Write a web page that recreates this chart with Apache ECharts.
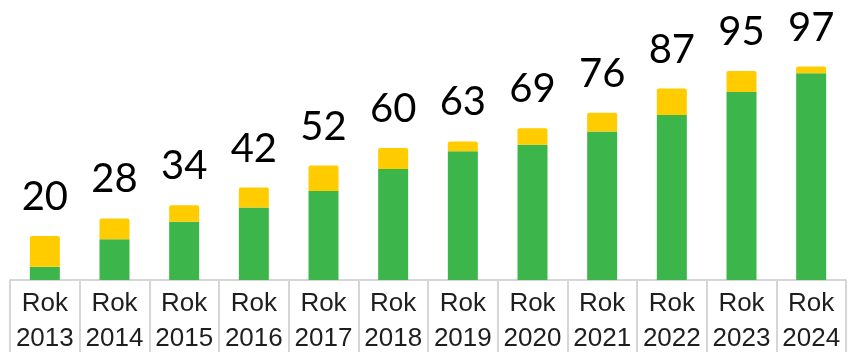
<!DOCTYPE html>
<html>
<head>
<meta charset="utf-8">
<script src="https://cdn.jsdelivr.net/npm/echarts@6/dist/echarts.min.js"></script>
<style>
  html, body { margin: 0; padding: 0; background: #fff; }
  #chart { width: 856px; height: 352px; }
</style>
</head>
<body>
<div id="chart"></div>
<script>
// Years shown along the bottom
const years = ['2013', '2014', '2015', '2016', '2017', '2018', '2019', '2020', '2021', '2022', '2023', '2024'];
// Lower (green) part of each bar
const greenValues = [6, 18.5, 26.5, 33, 40.5, 50.5, 58.5, 61.5, 67.5, 75, 85.5, 94];
// Upper (yellow) part of each bar
const yellowValues = [14, 9.5, 7.5, 9, 11.5, 9.5, 4.5, 7.5, 8.5, 12, 9.5, 3];
// Totals printed above the bars
const totals = [20, 28, 34, 42, 52, 60, 63, 69, 76, 87, 95, 97];

const categories = years.map(y => 'Rok\n' + y);

const chart = echarts.init(document.getElementById('chart'), null, { renderer: 'canvas' });

const gridLine = { color: '#d6d6d6', width: 2 };

chart.setOption({
  animation: false,
  backgroundColor: '#ffffff',
  grid: { left: 10, right: 10, top: 60, bottom: 72, containLabel: false, outerBoundsMode: 'none' },
  xAxis: {
    type: 'category',
    data: categories,
    boundaryGap: true,
    axisLine: { show: true, lineStyle: gridLine },
    axisTick: { show: true, interval: 0, length: 72, inside: false, lineStyle: gridLine },
    axisLabel: {
      interval: 0,
      margin: 6,
      color: '#1e1e1e',
      fontFamily: 'Liberation Sans, Arial, sans-serif',
      fontSize: 26,
      lineHeight: 35
    }
  },
  yAxis: {
    type: 'value',
    min: 0,
    max: 100,
    show: false,
    splitLine: { show: false }
  },
  series: [
    {
      name: 'green',
      type: 'bar',
      stack: 'total',
      barWidth: 30,
      data: greenValues,
      itemStyle: { color: '#3cb54a' }
    },
    {
      name: 'yellow',
      type: 'bar',
      stack: 'total',
      barWidth: 30,
      data: yellowValues,
      itemStyle: { color: '#ffcc00', borderRadius: [2, 2, 0, 0] },
      label: {
        show: true,
        position: 'top',
        distance: 19,
        color: '#000000',
        fontFamily: 'Lato, sans-serif',
        fontSize: 40,
        formatter: p => String(totals[p.dataIndex])
      }
    }
  ]
});
</script>
</body>
</html>
